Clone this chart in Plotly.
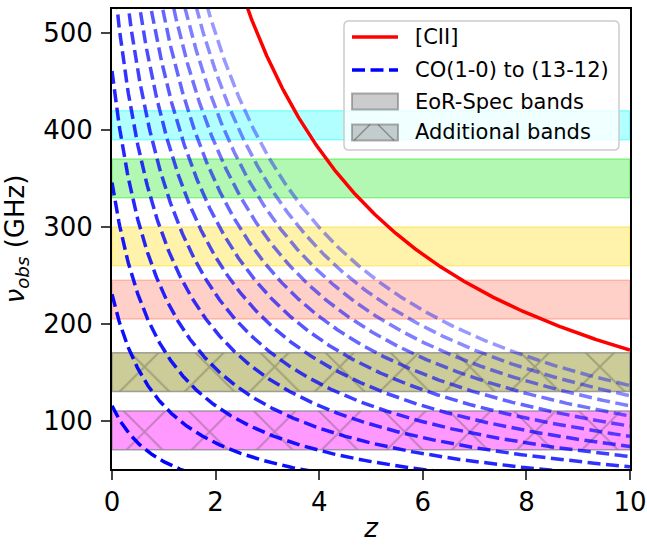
import numpy as np
import plotly.graph_objects as go

# ---- data ----
CII_REST_GHZ = 1900.54
CO_J = list(range(1, 14))
CO_REST_GHZ = [115.27, 230.54, 345.80, 461.04, 576.27, 691.47, 806.65,
               921.80, 1036.91, 1151.99, 1267.01, 1381.99, 1496.92]
Z_RANGE = [0, 10]
EOR_LOW = [205, 260, 330, 390]
EOR_HIGH = [245, 300, 370, 420]
EOR_COLORS = ["rgba(255,99,71,0.3)", "rgba(255,215,0,0.33)",
              "rgba(20,230,20,0.33)", "rgba(0,255,255,0.3)"]
EOR_EDGES = ["rgba(255,99,71,0.35)", "rgba(255,215,0,0.4)",
             "rgba(20,230,20,0.4)", "rgba(0,255,255,0.4)"]
ADD_LOW = [70, 130]
ADD_HIGH = [110, 170]
ADD_COLORS = ["rgba(255,0,255,0.4)", "rgba(128,128,0,0.4)"]
X_TICKS = [0, 2, 4, 6, 8, 10]
Y_TICKS = [100, 200, 300, 400, 500]
Y_RANGE = [50, 525]
LEGEND_LABELS = ["[CII]", "CO(1-0) to (13-12)", "EoR-Spec bands", "Additional bands"]

z = np.linspace(Z_RANGE[0], Z_RANGE[1], 600)

fig = go.Figure()

def band_xy(lo, hi):
    x = [Z_RANGE[0], Z_RANGE[1], Z_RANGE[1], Z_RANGE[0], Z_RANGE[0]]
    y = [lo, lo, hi, hi, lo]
    return x, y

for lo, hi, c, e in zip(EOR_LOW, EOR_HIGH, EOR_COLORS, EOR_EDGES):
    x, y = band_xy(lo, hi)
    fig.add_trace(go.Scatter(x=x, y=y, mode="lines", fill="toself",
                             fillcolor=c, line=dict(color=e, width=1.5),
                             showlegend=False, hoverinfo="skip",
                             name="EoR-Spec bands"))

for lo, hi, c in zip(ADD_LOW, ADD_HIGH, ADD_COLORS):
    x, y = band_xy(lo, hi)
    fig.add_trace(go.Scatter(x=x, y=y, mode="lines", fill="toself",
                             fillcolor=c,
                             fillpattern=dict(shape="x", bgcolor=c,
                                              fgcolor="rgba(60,60,45,0.6)",
                                              size=46, solidity=0.085),
                             line=dict(color="rgba(128,128,128,0.7)", width=1.5),
                             showlegend=False, hoverinfo="skip",
                             name="Additional bands"))

LW = 3.5
DASH = "13px,5.5px"
alphas = np.linspace(1.0, 0.4, len(CO_J))
for j, nu, a in zip(CO_J, CO_REST_GHZ, alphas):
    fig.add_trace(go.Scatter(x=z, y=nu / (1 + z), mode="lines",
                             line=dict(color="blue", width=LW, dash=DASH),
                             opacity=float(a), showlegend=False,
                             name="CO(%d-%d)" % (j, j - 1)))

fig.add_trace(go.Scatter(x=z, y=CII_REST_GHZ / (1 + z), mode="lines",
                         line=dict(color="red", width=LW),
                         showlegend=False, name="[CII]"))

# ---- manual legend (paper coordinates computed from pixel layout) ----
L, R, T, B = 112, 630, 9, 469
def px(xp):
    return (xp - L) / (R - L)
def py(yp):
    return (B - yp) / (B - T)

bx0, bx1, by0, by1, rad = 344, 619, 21, 150, 5
path = ("M {a},{b} L {c},{b} Q {d},{b} {d},{e} L {d},{f} Q {d},{g} {c},{g} "
        "L {a},{g} Q {h},{g} {h},{f} L {h},{e} Q {h},{b} {a},{b} Z").format(
    a=px(bx0 + rad), b=py(by0), c=px(bx1 - rad), d=px(bx1), e=py(by0 + rad),
    f=py(by1 - rad), g=py(by1), h=px(bx0))
shapes = [dict(type="path", path=path, xref="paper", yref="paper",
               fillcolor="rgba(255,255,255,0.8)",
               line=dict(color="rgba(204,204,204,1)", width=1.5), layer="above")]

hx0, hx1 = 352, 398
rows = [37, 70, 101.5, 132.5]
shapes.append(dict(type="line", xref="paper", yref="paper",
                   x0=px(hx0), x1=px(hx1), y0=py(rows[0]), y1=py(rows[0]),
                   line=dict(color="red", width=LW)))
shapes.append(dict(type="line", xref="paper", yref="paper",
                   x0=px(hx0), x1=px(hx1), y0=py(rows[1]), y1=py(rows[1]),
                   line=dict(color="blue", width=LW, dash=DASH)))
for r in rows[2:]:
    shapes.append(dict(type="rect", xref="paper", yref="paper",
                       x0=px(hx0), x1=px(hx1), y0=py(r - 8), y1=py(r + 8),
                       fillcolor="rgba(128,128,128,0.4)",
                       line=dict(color="rgba(110,110,110,0.55)", width=2)))
r = rows[3]
for (xa, ya, xb, yb) in [(hx0 + 2, r + 8, hx0 + 18, r - 8),
                         (hx1 - 20, r - 8, hx1 - 4, r + 8)]:
    shapes.append(dict(type="line", xref="paper", yref="paper",
                       x0=px(xa), y0=py(ya), x1=px(xb), y1=py(yb),
                       line=dict(color="rgba(60,60,60,0.45)", width=1.5)))

annotations = []
for lab, r in zip(LEGEND_LABELS, rows):
    annotations.append(dict(text=lab, xref="paper", yref="paper",
                            x=px(413), y=py(r), xanchor="left", yanchor="middle",
                            showarrow=False, font=dict(size=21)))

font = "DejaVu Sans"
fig.update_layout(
    width=647, height=548,
    margin=dict(l=112, r=17, t=9, b=79),
    paper_bgcolor="white", plot_bgcolor="white",
    font=dict(family=font, color="black", size=26),
    showlegend=False,
    shapes=shapes, annotations=annotations,
    xaxis=dict(range=Z_RANGE, tickvals=X_TICKS, showgrid=False, zeroline=False,
               showline=True, linecolor="black", linewidth=2, mirror=True,
               ticks="outside", ticklen=9, tickwidth=1.5, automargin=False,
               tickfont=dict(size=26),
               title=dict(text="<i>z</i>", font=dict(size=26), standoff=3)),
    yaxis=dict(range=Y_RANGE, tickvals=Y_TICKS, showgrid=False, zeroline=False,
               showline=True, linecolor="black", linewidth=2, mirror=True,
               ticks="outside", ticklen=9, tickwidth=1.5, automargin=False,
               tickfont=dict(size=26), ticklabelstandoff=3,
               title=dict(text="<i>ν</i><sub><i>obs</i></sub> (GHz)",
                          font=dict(size=26), standoff=20)),
)

fig.write_html("out.html")
